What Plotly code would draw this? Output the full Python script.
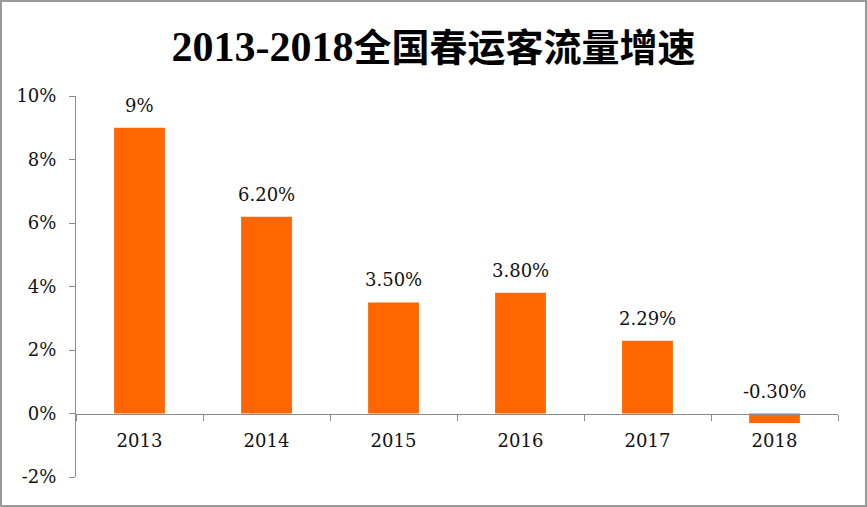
import plotly.graph_objects as go

years = ["2013", "2014", "2015", "2016", "2017", "2018"]
growth = [0.09, 0.062, 0.035, 0.038, 0.0229, -0.003]
labels = ["9%", "6.20%", "3.50%", "3.80%", "2.29%", "-0.30%"]
y_ticks = [-0.02, 0.0, 0.02, 0.04, 0.06, 0.08, 0.10]
y_ticktext = ["-2%", "0%", "2%", "4%", "6%", "8%", "10%"]
title_latin = "2013-2018"
title_cjk = "全国春运客流量增速"

W, H = 867, 507
L, R, T, B = 76, 29, 96, 30
pw, ph = W - L - R, H - T - B
FONT = "DejaVu Serif"

fig = go.Figure()
fig.add_trace(go.Bar(x=years, y=growth, marker=dict(color="#FF6600", line=dict(width=0)),
                     hoverinfo="skip"))

for i, (v, lab) in enumerate(zip(growth, labels)):
    fig.add_annotation(x=i, y=max(v, 0), text=lab, showarrow=False,
                       yanchor="bottom", yshift=10,
                       font=dict(family=FONT, size=18, color="#111"))

# outer border
fig.add_shape(type="rect", xref="paper", yref="paper",
              x0=(1 - L) / pw, x1=(W - 1 - L) / pw,
              y0=(H - B - (H - 1)) / ph, y1=(H - B - 1) / ph,
              line=dict(color="#9a9a9a", width=2))

fig.update_layout(
    width=W, height=H,
    margin=dict(l=L, r=R, t=T, b=B, autoexpand=False),
    paper_bgcolor="white", plot_bgcolor="white",
    bargap=0.6, showlegend=False,
    title=dict(text="<b><span style='font-size:42px'>" + title_latin + "</span>" + title_cjk + "</b>",
               x=0.5, xanchor="center", y=1 - 48 / H, yanchor="middle",
               font=dict(family="Liberation Serif, Noto Sans CJK SC", size=38, color="#000")),
    font=dict(family=FONT, size=18, color="#111"),
)
fig.update_yaxes(range=[-0.02, 0.10], tickvals=y_ticks, ticktext=y_ticktext,
                 showgrid=False, zeroline=False, showline=True, linecolor="#8c8c8c",
                 linewidth=1, ticks="outside", ticklen=6, tickcolor="#8c8c8c",
                 ticklabelstandoff=9,
                 tickfont=dict(family=FONT, size=18, color="#111"))
fig.update_xaxes(type="category", range=[-0.5, len(years) - 0.5], anchor="free",
                 position=2 / 12, showgrid=False, showline=True,
                 linecolor="#8c8c8c", linewidth=1, ticks="outside", ticklen=6,
                 tickcolor="#8c8c8c", tickson="boundaries", ticklabelstandoff=11,
                 tickfont=dict(family=FONT, size=18, color="#111"))

fig.write_html("out.html", config={"displayModeBar": False},
               post_script="document.body.style.margin='0';document.body.style.overflow='hidden';")
